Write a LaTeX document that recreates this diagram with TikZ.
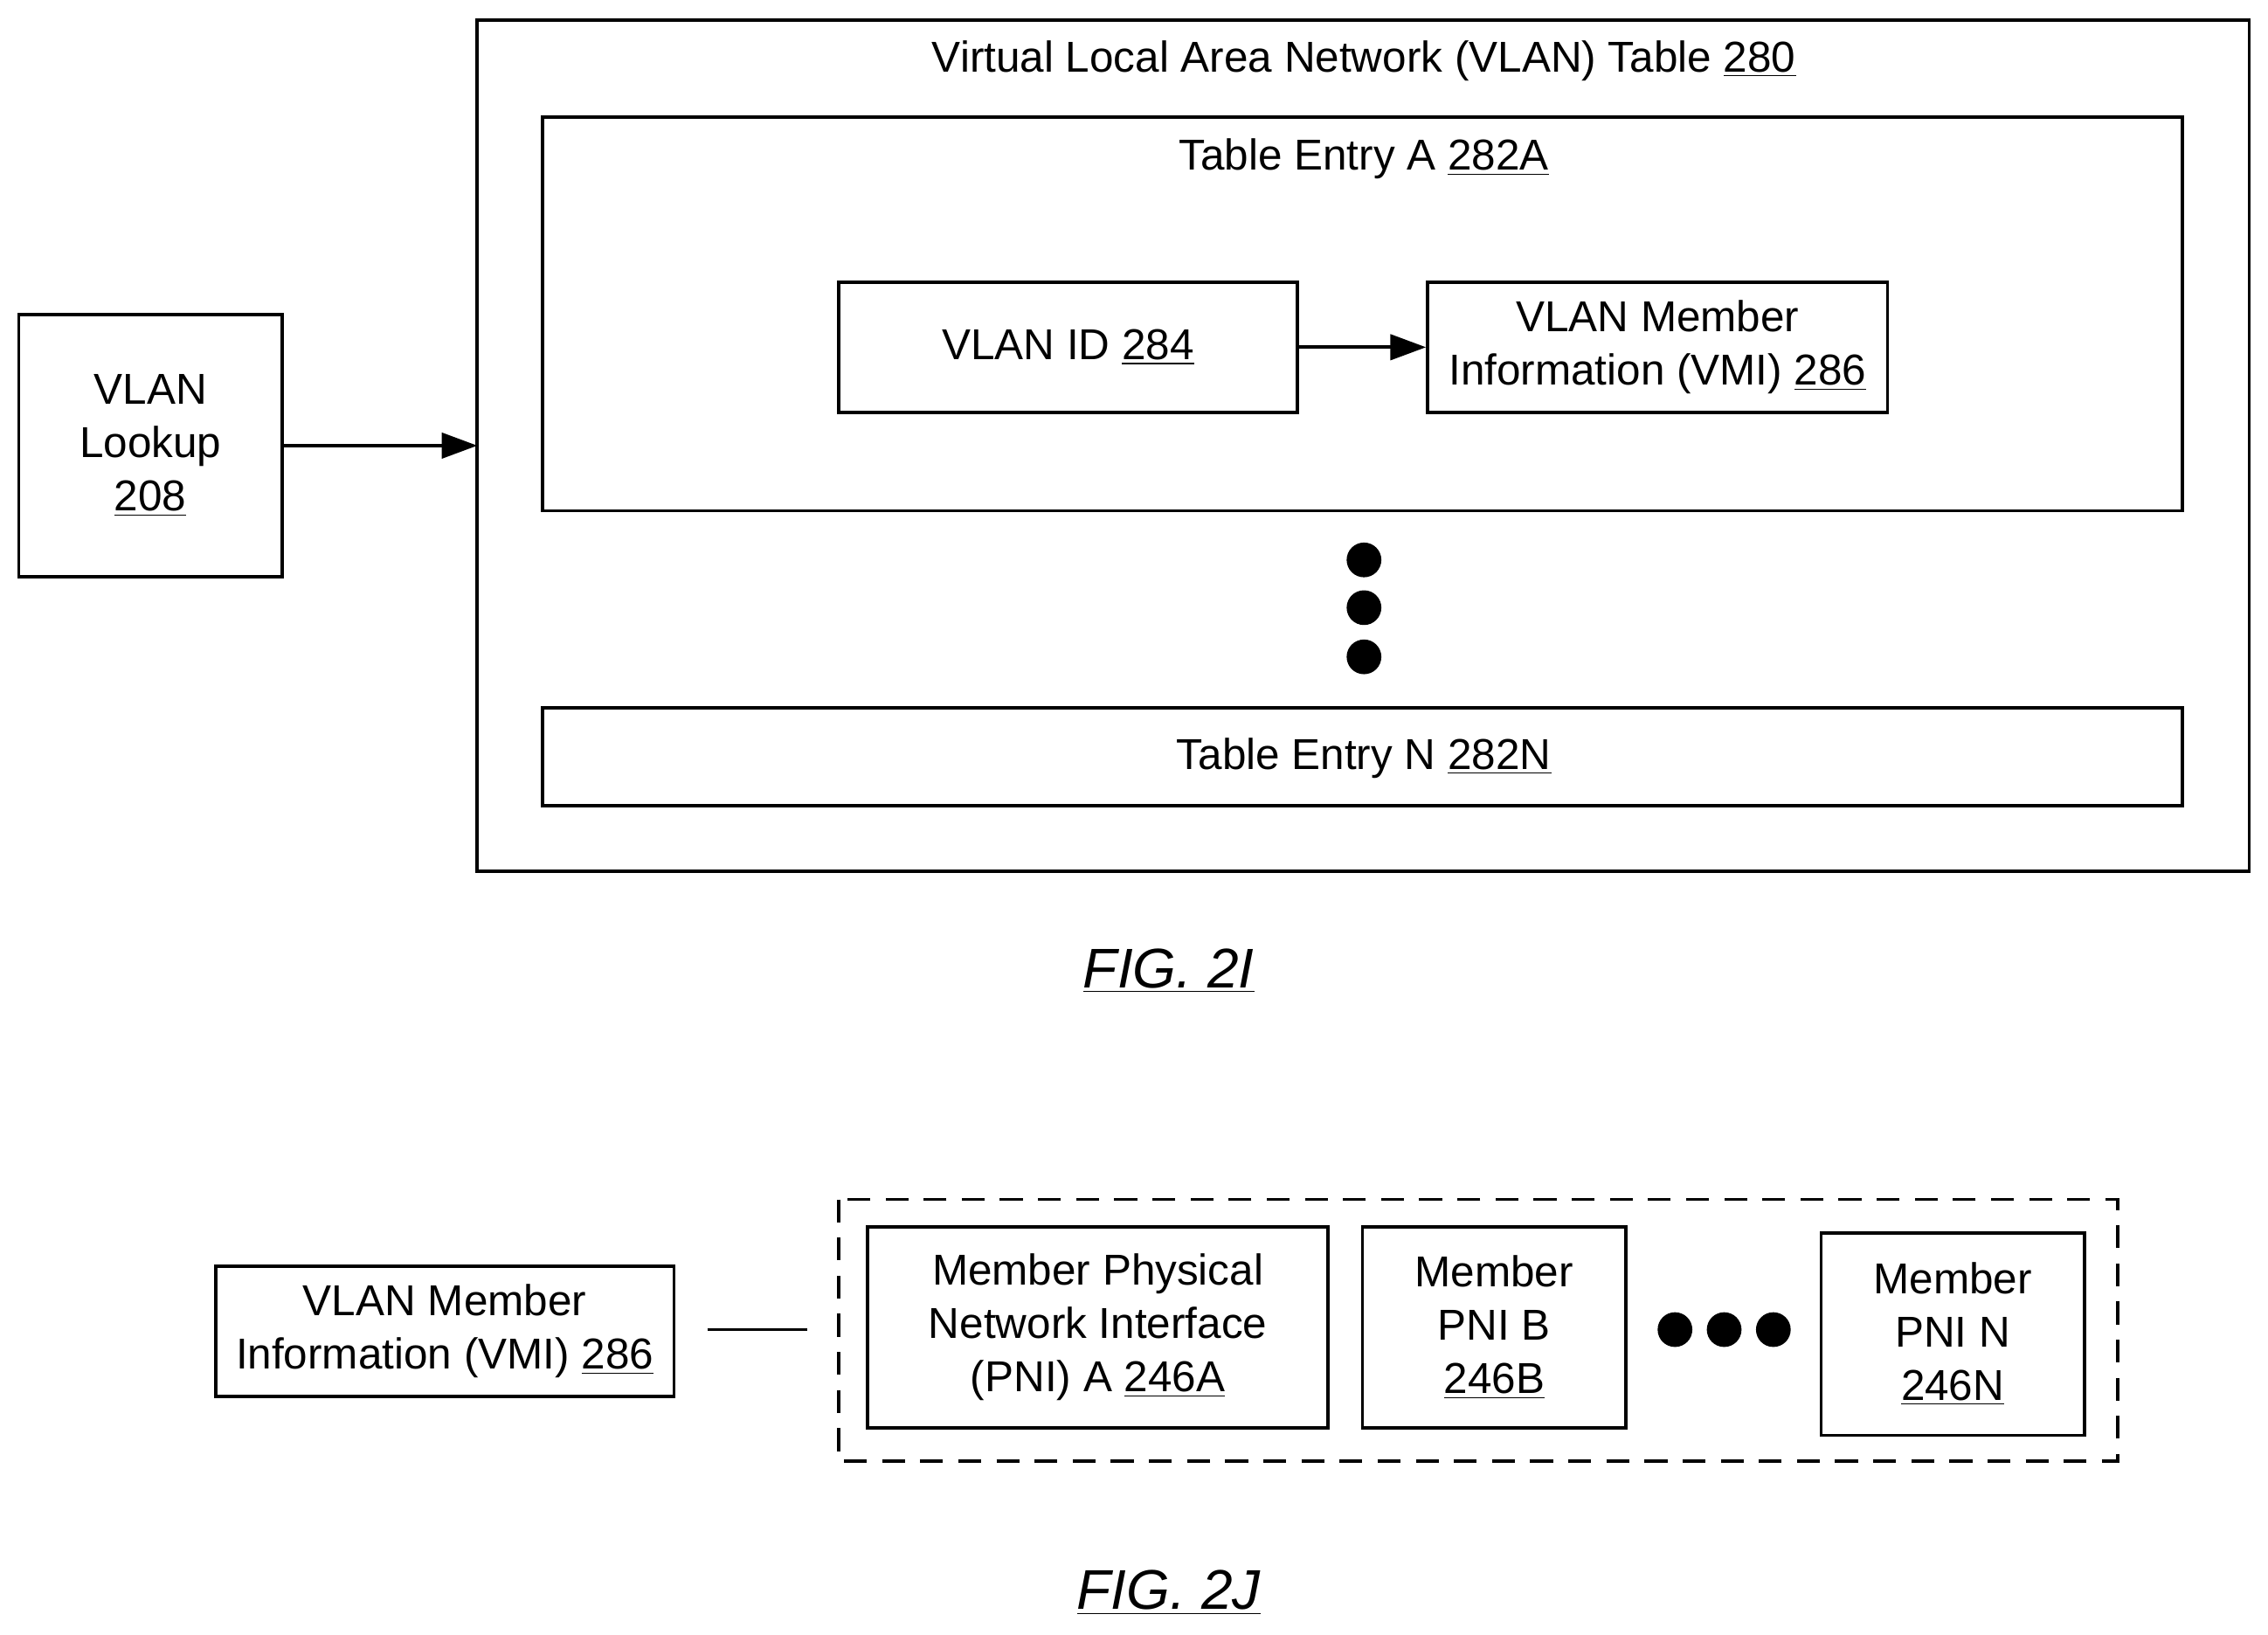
\documentclass[tikz,border=0pt]{standalone}
\usepackage{fontspec}
\setmainfont{Liberation Sans}
\usetikzlibrary{arrows.meta}
\begin{document}
\begin{tikzpicture}[x=0.02cm,y=-0.02cm,
  box/.style={draw,line width=1.3pt,align=center,font=\fontsize{17}{21}\selectfont},
  lbl/.style={font=\fontsize{17}{21}\selectfont},
  fig/.style={font=\fontsize{22}{26}\selectfont\itshape},
  arr/.style={line width=1.3pt,-{Triangle[length=14pt,width=10pt]}},
  dot/.style={fill=black,circle,inner sep=0pt,minimum size=24*0.02cm}]
\useasboundingbox (0,0) rectangle (1568,1130);
% FIG 2I
\draw[line width=1.3pt] (330,14) rectangle (1555,602);
\node[lbl] (t280) at (943,42) {Virtual Local Area Network (VLAN) Table \underline{280}};
\draw[line width=1.3pt] (375,81) rectangle (1509,353);
\node[lbl] (tA) at (943,110) {Table Entry A \underline{282A}};
\node[box,minimum width=317*0.02cm,minimum height=90*0.02cm] (vid) at (738.5,240) {VLAN ID \underline{284}};
\node[box,minimum width=318*0.02cm,minimum height=90*0.02cm] (vmi) at (1146,240) {VLAN Member\\Information (VMI) \underline{286}};
\draw[arr] (vid) -- (vmi);
\node[dot] (d1) at (943,387) {};
\node[dot] (d2) at (943,420) {};
\node[dot] (d3) at (943,454) {};
\draw[line width=1.3pt] (375,489) rectangle (1509,557);
\node[lbl] (tN) at (943,524) {Table Entry N \underline{282N}};
\node[box,minimum width=182*0.02cm,minimum height=181*0.02cm] (look) at (104,308) {VLAN\\Lookup\\\underline{208}};
\coordinate (tbl) at (330,308);
\draw[arr] (look.east) -- (tbl);
\node[fig] (f2i) at (808,671) {\underline{FIG. 2I}};
% FIG 2J
\node[box,minimum width=317*0.02cm,minimum height=90*0.02cm] (vmi2) at (307.5,920) {VLAN Member\\Information (VMI) \underline{286}};
\coordinate (l1) at (489,919);
\coordinate (l2) at (558,919);
\draw[line width=1.3pt] (l1) -- (l2);
\draw[line width=1.3pt,dash pattern=on 9pt off 6pt] (580,829) rectangle (1464,1010);
\node[box,minimum width=318*0.02cm,minimum height=139*0.02cm] (pa) at (759,917.5) {Member Physical\\Network Interface\\(PNI) A \underline{246A}};
\node[box,minimum width=182*0.02cm,minimum height=139*0.02cm] (pb) at (1033,917.5) {Member\\PNI B\\\underline{246B}};
\node[dot] (e1) at (1158,919) {};
\node[dot] (e2) at (1192,919) {};
\node[dot] (e3) at (1226,919) {};
\node[box,minimum width=182*0.02cm,minimum height=140*0.02cm] (pn) at (1350,922) {Member\\PNI N\\\underline{246N}};
\node[fig] (f2j) at (808,1101) {\underline{FIG. 2J}};
\end{tikzpicture}
\end{document}
